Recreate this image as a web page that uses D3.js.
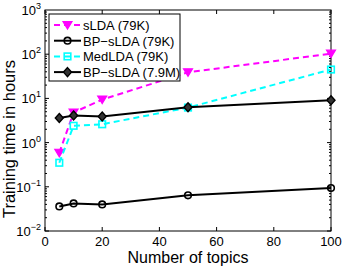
<!DOCTYPE html>
<html>
<head>
<meta charset="utf-8">
<script src="https://d3js.org/d3.v7.min.js"></script>
<style>
  body { margin: 0; background: #fff; }
  text { font-family: "Liberation Sans", Arial, sans-serif; }
</style>
</head>
<body>
<div id="chart"></div>
<script>
const topics = [5, 10, 20, 50, 100];
const sLDA = [0.59, 4.8, 9.4, 39, 103];
const bpSLDA79K = [0.036, 0.042, 0.040, 0.064, 0.094];
const medLDA = [0.35, 2.4, 2.6, 6.2, 45];
const bpSLDA79M = [3.6, 4.1, 3.9, 6.3, 9.1];
const xTicks = [0, 20, 40, 60, 80, 100];
const yTicks = [-2, -1, 0, 1, 2, 3];

const series = [
  { name: "sLDA (79K)", values: sLDA, color: "#ff00ff", dash: "6,4", marker: "triangle" },
  { name: "BP\u2212sLDA (79K)", values: bpSLDA79K, color: "#000", dash: null, marker: "circle" },
  { name: "MedLDA (79K)", values: medLDA, color: "#00ffff", dash: "6,4", marker: "square" },
  { name: "BP\u2212sLDA (7.9M)", values: bpSLDA79M, color: "#000", dash: null, marker: "diamond" }
];

const width = 343, height = 267;
const margin = { left: 45, right: 12, top: 10, bottom: 36 };

const svg = d3.select("#chart").append("svg")
  .attr("width", width)
  .attr("height", height);

const x = d3.scaleLinear().domain([0, 100]).range([margin.left, width - margin.right]);
const y = d3.scaleLog().domain([1e-2, 1e3]).range([height - margin.bottom, margin.top]);

const x0 = x.range()[0], x1 = x.range()[1];
const y0 = y.range()[0], y1 = y.range()[1];

// ticks (inward, on all four sides)
const ticks = svg.append("g").attr("stroke", "#000").attr("stroke-width", 1);
xTicks.forEach(t => {
  ticks.append("line").attr("x1", x(t)).attr("x2", x(t)).attr("y1", y0).attr("y2", y0 - 4);
  ticks.append("line").attr("x1", x(t)).attr("x2", x(t)).attr("y1", y1).attr("y2", y1 + 4);
});
for (let e = -2; e < 3; e++) {
  for (let m = 1; m < 10; m++) {
    const v = m * Math.pow(10, e);
    const len = m === 1 ? 4 : 2;
    ticks.append("line").attr("x1", x0).attr("x2", x0 + len).attr("y1", y(v)).attr("y2", y(v));
    ticks.append("line").attr("x1", x1).attr("x2", x1 - len).attr("y1", y(v)).attr("y2", y(v));
  }
}

// frame
svg.append("rect")
  .attr("x", x0).attr("y", y1)
  .attr("width", x1 - x0).attr("height", y0 - y1)
  .attr("fill", "none").attr("stroke", "#000").attr("stroke-width", 1);

// tick labels
svg.append("g").selectAll("text").data(xTicks).join("text")
  .attr("x", d => x(d)).attr("y", y0 + 15)
  .attr("text-anchor", "middle")
  .attr("font-size", 13)
  .text(d => d);

const yl = svg.append("g").selectAll("text").data(yTicks).join("text")
  .attr("x", x0 - 4).attr("y", d => y(Math.pow(10, d)) + 5)
  .attr("text-anchor", "end")
  .attr("font-size", 13);
yl.append("tspan").text("10");
yl.append("tspan").attr("dy", -6).attr("font-size", 9).text(d => d < 0 ? "\u2212" + (-d) : d);

// axis titles
svg.append("text")
  .attr("x", (x0 + x1) / 2).attr("y", height - 4)
  .attr("text-anchor", "middle")
  .attr("font-size", 16)
  .text("Number of topics");

svg.append("text")
  .attr("transform", "translate(15,139) rotate(-90)")
  .attr("text-anchor", "middle")
  .attr("font-size", 16.5)
  .text("Training time in hours");

function drawMarker(g, type, color) {
  if (type === "triangle") {
    g.append("path").attr("d", "M-4.5,-3.5 L4.5,-3.5 L0,4 Z")
      .attr("fill", color).attr("stroke", color).attr("stroke-width", 1.2);
  } else if (type === "circle") {
    g.append("circle").attr("r", 3.3)
      .attr("fill", "none").attr("stroke", color).attr("stroke-width", 1.6);
  } else if (type === "square") {
    g.append("rect").attr("x", -3.3).attr("y", -3.3).attr("width", 6.6).attr("height", 6.6)
      .attr("fill", "none").attr("stroke", color).attr("stroke-width", 1.6);
  } else if (type === "diamond") {
    g.append("path").attr("d", "M0,-4.5 L4,0 L0,4.5 L-4,0 Z")
      .attr("fill", "#333").attr("stroke", color).attr("stroke-width", 1.4);
  }
}

const line = d3.line().x(d => x(d[0])).y(d => y(d[1]));

series.forEach(s => {
  const pts = topics.map((t, i) => [t, s.values[i]]);
  svg.append("path")
    .datum(pts)
    .attr("d", line)
    .attr("fill", "none")
    .attr("stroke", s.color)
    .attr("stroke-width", 2)
    .attr("stroke-dasharray", s.dash);
  pts.forEach(p => {
    const g = svg.append("g").attr("transform", `translate(${x(p[0])},${y(p[1])})`);
    drawMarker(g, s.marker, s.color);
  });
});

// legend
const lg = svg.append("g");
lg.append("rect")
  .attr("x", 49).attr("y", 14).attr("width", 131).attr("height", 67)
  .attr("fill", "#fff").attr("stroke", "#000").attr("stroke-width", 1);
series.forEach((s, i) => {
  const ly = 25 + i * 15.7;
  lg.append("line")
    .attr("x1", 54).attr("x2", 81).attr("y1", ly).attr("y2", ly)
    .attr("stroke", s.color).attr("stroke-width", 2)
    .attr("stroke-dasharray", s.dash);
  const g = lg.append("g").attr("transform", `translate(67.5,${ly})`);
  drawMarker(g, s.marker, s.color);
  lg.append("text")
    .attr("x", 83).attr("y", ly + 5)
    .attr("font-size", 13)
    .text(s.name);
});
</script>
</body>
</html>
